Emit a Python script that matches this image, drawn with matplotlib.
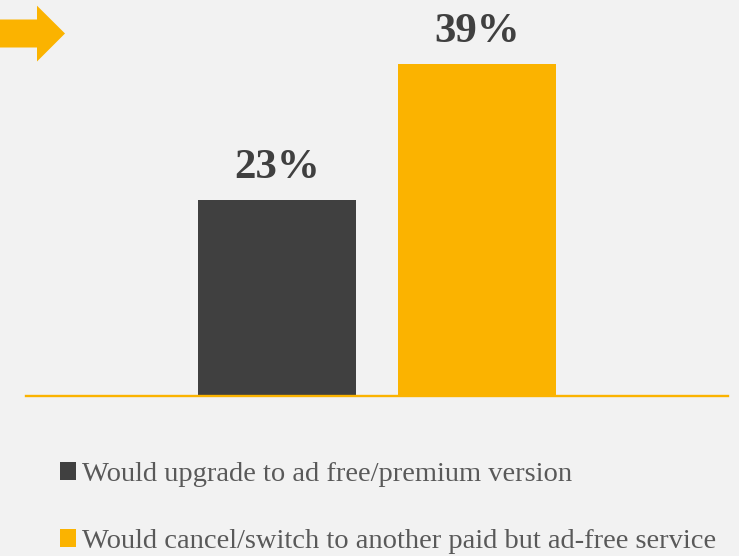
import matplotlib.pyplot as plt
from matplotlib.patches import Polygon

# Data
categories = ["Would upgrade to ad free/premium version",
              "Would cancel/switch to another paid but ad-free service"]
values = [23, 39]
labels = ["23%", "39%"]
colors = ["#404040", "#FBB300"]

bg = "#F2F2F2"
plt.rcParams["font.family"] = ["Liberation Serif", "DejaVu Serif"]

fig = plt.figure(figsize=(7.39, 5.56), dpi=100, facecolor=bg)
W, H = 739, 556
ax = fig.add_axes([26 / W, 160 / H, 702 / W, 396 / H])
ax.set_facecolor(bg)

bars = ax.bar(range(len(values)), values, width=0.79, color=colors, label=categories)
for b, lab in zip(bars, labels):
    ax.annotate(lab, (b.get_x() + b.get_width() / 2, b.get_height()),
                xytext=(0, 16), textcoords="offset points",
                ha="center", va="baseline", fontsize=31, fontweight="bold",
                color="#404040")

ax.set_xlim(-1.255, 2.255)
ax.set_ylim(0, 46.5)
ax.set_xticks([])
ax.set_yticks([])
for s in ["top", "left", "right"]:
    ax.spines[s].set_visible(False)
ax.spines["bottom"].set_color("#FBB300")
ax.spines["bottom"].set_linewidth(1.7)

# Legend
handles = list(bars)
leg = fig.legend(handles, categories, loc="upper left",
                 bbox_to_anchor=(60 / W, 1 - 462 / H), frameon=False,
                 fontsize=20.5, handlelength=0.56, handleheight=0.56,
                 handletextpad=0.2, labelspacing=1.48, borderpad=0,
                 borderaxespad=0)
for t in leg.get_texts():
    t.set_color("#595959")

# Arrow decoration at top-left
pts = [(0, 19.5), (37, 19.5), (37, 5.7), (65, 33.5), (37, 61.5), (37, 47.5), (0, 47.5)]
fig.patches.append(Polygon([(x / W, 1 - y / H) for x, y in pts], closed=True,
                           transform=fig.transFigure, facecolor="#FBB300",
                           edgecolor="none"))

fig.savefig("out.png", dpi=100, facecolor=bg)
